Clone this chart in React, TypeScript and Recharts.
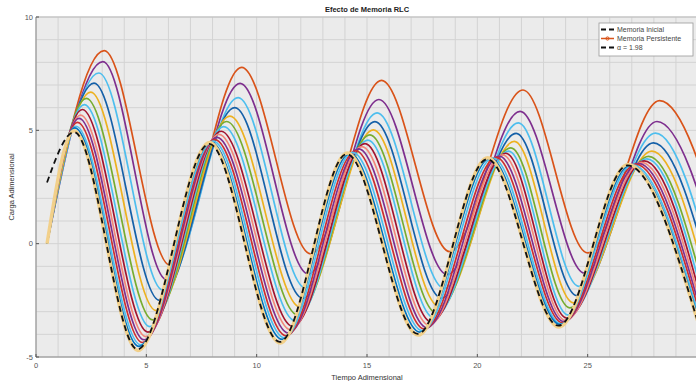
import React from "react";
import { CartesianGrid, Line, LineChart, ReferenceLine, XAxis, YAxis } from "recharts";

const FONT = "'Liberation Sans', Arial, Helvetica, sans-serif";

// grid every unit, labels every 5
const X_TICKS = [0, 1, 2, 3, 4, 5, 6, 7, 8, 9, 10, 11, 12, 13, 14, 15, 16, 17, 18, 19, 20, 21, 22, 23, 24, 25, 26, 27, 28, 29, 30];
const Y_TICKS = [-5, -4, -3, -2, -1, 0, 1, 2, 3, 4, 5, 6, 7, 8, 9, 10];
const X_LABELS = [0, 5, 10, 15, 20, 25];
const Y_LABELS = [-5, 0, 5, 10];

// inner (weak memory) -> outer (persistent memory)
const COLORS = [
  "#F2D08A", "#0072BD", "#4DBEEE", "#CC2F2F", "#7E2F8E", "#F2877A", "#A2142F",
  "#4DBEEE", "#77AC30", "#EDB120", "#1560A8", "#4DBEEE", "#7E2F8E", "#D95319"
];

// Memoria Inicial (black dashed): start, peaks and troughs
const BASE_X = [0.5, 1.73, 4.6, 7.85, 11.05, 14.08, 17.3, 20.45, 23.68, 26.8, 29.95];
const BASE_Y = [2.7, 4.92, -4.66, 4.4, -4.33, 3.95, -3.98, 3.73, -3.62, 3.45, -3.32];

// colored curves all start at (0.5, 0)
const START_X = 0.5;
const START_Y = 0;

const P1_X = [1.72, 1.76, 1.81, 1.88, 1.95, 2.02, 2.1, 2.19, 2.28, 2.48, 2.63, 2.85, 3.03, 3.09];
const P1_Y = [4.98, 5.11, 5.18, 5.35, 5.53, 5.67, 5.92, 6.13, 6.41, 6.69, 7.08, 7.53, 8.03, 8.52];
const T1_X = [4.62, 4.66, 4.74, 4.82, 4.9, 4.98, 5.07, 5.16, 5.29, 5.44, 5.59, 5.75, 5.91, 6.07];
const T1_Y = [-4.71, -4.53, -4.46, -4.36, -4.24, -4.1, -3.9, -3.66, -3.36, -2.95, -2.5, -2.05, -1.58, -0.95];
const P2_X = [7.87, 7.94, 8.03, 8.11, 8.2, 8.29, 8.39, 8.51, 8.64, 8.79, 9.01, 9.16, 9.25, 9.32];
const P2_Y = [4.46, 4.47, 4.52, 4.59, 4.69, 4.82, 4.96, 5.16, 5.39, 5.63, 6.0, 6.44, 7.07, 7.78];
const T2_X = [11.07, 11.15, 11.25, 11.34, 11.44, 11.54, 11.64, 11.75, 11.86, 11.97, 12.09, 12.21, 12.34, 12.45];
const T2_Y = [-4.38, -4.22, -4.15, -4.07, -3.95, -3.8, -3.65, -3.41, -3.15, -2.8, -2.41, -1.95, -1.34, -0.45];
const P3_X = [14.11, 14.22, 14.35, 14.49, 14.63, 14.77, 14.91, 15.04, 15.13, 15.29, 15.36, 15.46, 15.54, 15.66];
const P3_Y = [4.0, 3.98, 4.03, 4.1, 4.18, 4.28, 4.41, 4.57, 4.8, 5.02, 5.38, 5.77, 6.36, 7.2];
const T3_X = [17.32, 17.4, 17.5, 17.6, 17.71, 17.81, 17.91, 18.03, 18.14, 18.26, 18.37, 18.5, 18.63, 18.75];
const T3_Y = [-4.03, -3.9, -3.84, -3.77, -3.7, -3.59, -3.45, -3.27, -3.05, -2.76, -2.4, -1.97, -1.36, -0.35];
const P4_X = [20.47, 20.58, 20.71, 20.86, 21.0, 21.15, 21.29, 21.42, 21.52, 21.68, 21.76, 21.86, 21.94, 22.07];
const P4_Y = [3.79, 3.77, 3.78, 3.81, 3.86, 3.92, 3.99, 4.08, 4.23, 4.51, 4.87, 5.33, 5.84, 6.78];
const T4_X = [23.7, 23.75, 23.8, 23.86, 23.92, 23.99, 24.05, 24.12, 24.19, 24.35, 24.51, 24.6, 24.86, 25.0];
const T4_Y = [-3.68, -3.57, -3.54, -3.49, -3.44, -3.38, -3.28, -3.15, -2.83, -2.61, -2.29, -1.88, -1.3, -0.41];
const P5_X = [26.82, 26.92, 27.03, 27.17, 27.3, 27.43, 27.56, 27.68, 27.76, 27.91, 27.98, 28.07, 28.14, 28.26];
const P5_Y = [3.5, 3.46, 3.48, 3.51, 3.54, 3.59, 3.65, 3.74, 3.85, 4.08, 4.45, 4.88, 5.39, 6.31];
const T5_X = [29.97, 30.0, 30.05, 30.11, 30.17, 30.24, 30.3, 30.37, 30.44, 30.6, 30.76, 30.85, 31.1, 31.3];
const T5_Y = [-3.38, -3.27, -3.24, -3.2, -3.15, -3.1, -3.01, -2.89, -2.62, -2.4, -2.1, -1.7, -1.15, -0.4];

const KEY_X = [P1_X, T1_X, P2_X, T2_X, P3_X, T3_X, P4_X, T4_X, P5_X, T5_X];
const KEY_Y = [P1_Y, T1_Y, P2_Y, T2_Y, P3_Y, T3_Y, P4_Y, T4_Y, P5_Y, T5_Y];

const curves = COLORS.map((color, j) => ({
  color,
  data: [{ x: START_X, y: START_Y }].concat(KEY_X.map((xs, k) => ({ x: xs[j], y: KEY_Y[k][j] })))
}));

const baseData = BASE_X.map((x, i) => ({ x, y: BASE_Y[i] }));

function XTick(props: any) {
  const { x, y, payload } = props;
  if (!X_LABELS.includes(payload.value)) return null;
  return (
    <g>
      <line x1={x} x2={x} y1={y - 6} y2={y - 9} stroke="#555" strokeWidth={1} />
      <text x={x} y={y} dy="0.71em" textAnchor="middle" fontSize={7.5} fill="#555" fontFamily={FONT}>
        {payload.value}
      </text>
    </g>
  );
}

function YTick(props: any) {
  const { x, y, payload } = props;
  if (!Y_LABELS.includes(payload.value)) return null;
  return (
    <g>
      <line x1={x + 3} x2={x + 6} y1={y} y2={y} stroke="#555" strokeWidth={1} />
      <text x={x} y={y} dy="0.35em" textAnchor="end" fontSize={7.5} fill="#555" fontFamily={FONT}>
        {payload.value}
      </text>
    </g>
  );
}

export default function App() {
  return (
    <div style={{ position: "absolute", left: 0, top: 0, width: 696, height: 381, overflow: "hidden", background: "#fff" }}>
      <LineChart width={700} height={381} margin={{ top: 17, right: 2, bottom: 0, left: 0 }}>
        <CartesianGrid stroke="#d3d3d3" strokeWidth={1} fill="#ebebeb" fillOpacity={1} />
        <XAxis
          dataKey="x"
          type="number"
          domain={[0, 30]}
          ticks={X_TICKS}
          interval={0}
          allowDataOverflow
          height={24}
          tickSize={0}
          tickMargin={6}
          tick={XTick}
          axisLine={{ stroke: "#8a8a8a" }}
        />
        <YAxis
          type="number"
          domain={[-5, 10]}
          ticks={Y_TICKS}
          interval={0}
          allowDataOverflow
          width={36}
          tickSize={0}
          tickMargin={3}
          tick={YTick}
          axisLine={{ stroke: "#8a8a8a" }}
        />
        <ReferenceLine y={10} stroke="#bdbdbd" />
        {curves
          .slice()
          .reverse()
          .map((c, i) => (
            <Line
              key={i}
              data={c.data}
              dataKey="y"
              type="monotone"
              stroke={c.color}
              strokeWidth={i === curves.length - 1 ? 3.4 : 1.7}
              dot={false}
              activeDot={false}
              isAnimationActive={false}
            />
          ))}
        <Line
          data={baseData}
          dataKey="y"
          type="monotone"
          stroke="#111"
          strokeWidth={1.8}
          strokeDasharray="6 4"
          dot={false}
          activeDot={false}
          isAnimationActive={false}
        />
        <text x={367} y={12} textAnchor="middle" fontSize={7.5} fontWeight="bold" fill="#222" fontFamily={FONT}>
          Efecto de Memoria RLC
        </text>
        <text x={367} y={380} textAnchor="middle" fontSize={7.5} fill="#333" fontFamily={FONT}>
          Tiempo Adimensional
        </text>
        <text x={14} y={187} textAnchor="middle" fontSize={7.5} fill="#333" fontFamily={FONT} transform="rotate(-90 14 187)">
          Carga Adimensional
        </text>
        <g fontFamily={FONT}>
          <rect x={599} y={23} width={94} height={33} fill="#fff" stroke="#9a9a9a" strokeWidth={0.8} />
          <line x1={601} x2={614} y1={29.5} y2={29.5} stroke="#111" strokeWidth={1.8} strokeDasharray="5 3" />
          <text x={617} y={29.5} dy="0.35em" fontSize={7} fill="#444">Memoria Inicial</text>
          <line x1={601} x2={614} y1={38.5} y2={38.5} stroke="#D95319" strokeWidth={1.5} />
          <circle cx={607.5} cy={38.5} r={1.6} fill="none" stroke="#D95319" strokeWidth={1} />
          <text x={617} y={38.5} dy="0.35em" fontSize={7} fill="#444">Memoria Persistente</text>
          <line x1={601} x2={614} y1={47.5} y2={47.5} stroke="#111" strokeWidth={1.8} strokeDasharray="5 3" />
          <text x={617} y={47.5} dy="0.35em" fontSize={7} fill="#444">α = 1.98</text>
        </g>
      </LineChart>
    </div>
  );
}
